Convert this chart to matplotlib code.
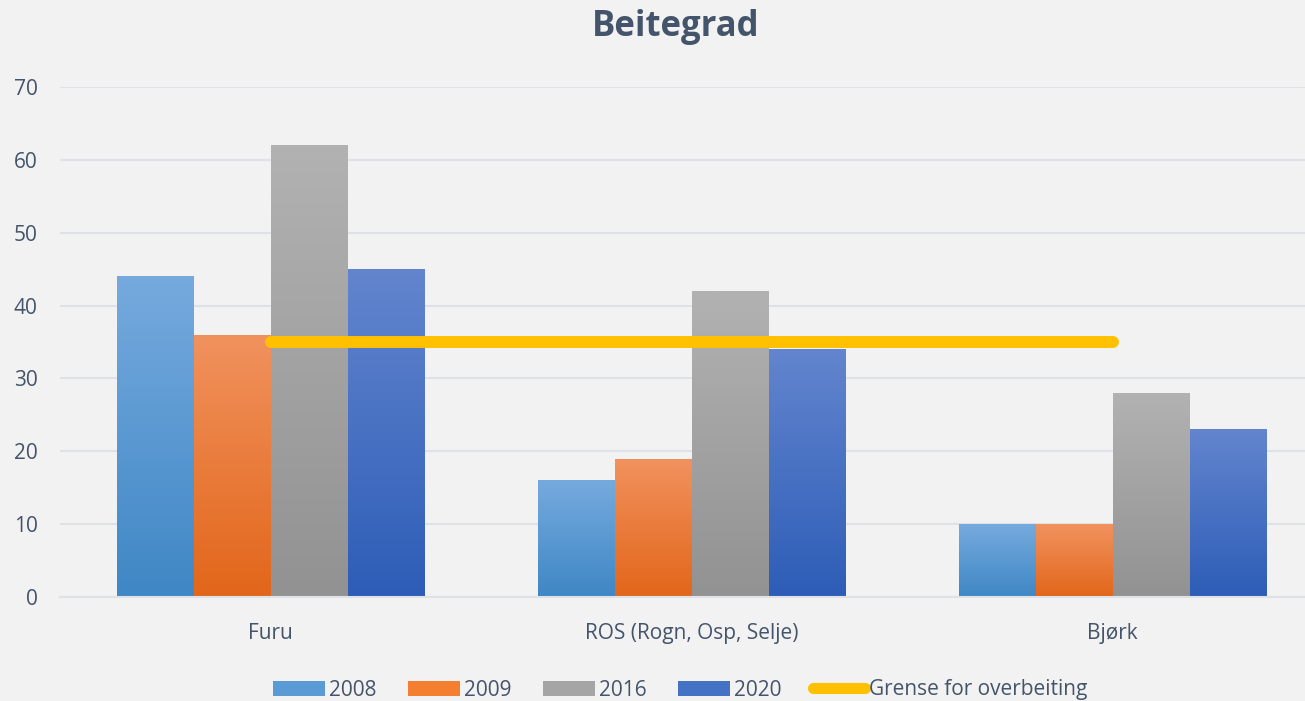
import matplotlib
matplotlib.use("Agg")
import matplotlib.pyplot as plt
import numpy as np
from matplotlib.colors import LinearSegmentedColormap
from matplotlib.patches import Patch
from matplotlib.lines import Line2D

categories = ["Furu", "ROS (Rogn, Osp, Selje)", "Bjørk"]
years = ["2008", "2009", "2016", "2020"]
v2008 = [44, 16, 10]
v2009 = [36, 19, 10]
v2016 = [62, 42, 28]
v2020 = [45, 34, 23]
threshold = [35, 35, 35]
threshold_label = "Grense for overbeiting"
title = "Beitegrad"
yticks = [0, 10, 20, 30, 40, 50, 60, 70]

series = [v2008, v2009, v2016, v2020]
grad_top = ["#76AADE", "#F1925E", "#B2B2B2", "#6385CE"]
grad_bot = ["#3F87C5", "#E2661A", "#929292", "#2D5DB7"]
mid = ["#5B9BD5", "#F47F30", "#A5A5A5", "#4472C4"]

bg = "#F2F2F2"
txt = "#44546A"
plt.rcParams['font.family'] = ['Open Sans', 'DejaVu Sans']

W, H = 1305, 701
fig = plt.figure(figsize=(W / 100, H / 100), dpi=100, facecolor=bg)
left_px, top_px, bot_px = 60, 87, 597
ax = fig.add_axes([left_px / W, (H - bot_px) / H, 1 - left_px / W, (bot_px - top_px) / H])
ax.set_facecolor(bg)

cat_px = 421.0
x = np.arange(len(categories))
bw = 77 / cat_px
n = len(series)

for i, vals in enumerate(series):
    offs = (i - (n - 1) / 2) * bw
    bars = ax.bar(x + offs, vals, width=bw, color='none', edgecolor='none', zorder=2)
    cmap = LinearSegmentedColormap.from_list(f"g{i}", [grad_bot[i], grad_top[i]])
    grad = np.linspace(0, 1, 256).reshape(-1, 1)
    for b in bars:
        x0, y0 = b.get_x(), b.get_y()
        w, h = b.get_width(), b.get_height()
        im = ax.imshow(grad, cmap=cmap, origin='lower', aspect='auto',
                       extent=(x0, x0 + w, y0, y0 + h), zorder=2)
        im.set_clip_path(b)

ax.plot(x, threshold, color="#FFC000", lw=8.6, solid_capstyle='round', zorder=3)
ax.set_xlim(-0.5, -0.5 + (W - left_px) / cat_px)
ax.set_ylim(0, 70)

ax.set_yticks(yticks)
ax.set_xticks(x)
ax.set_xticklabels(categories)
ax.tick_params(axis='both', length=0, colors=txt, labelsize=15)
ax.tick_params(axis='y', pad=16)
ax.tick_params(axis='x', pad=19)
ax.grid(axis='y', color="#DEE2E8", lw=1.5, zorder=0)
ax.set_axisbelow(True)
for s in ["top", "right", "left"]:
    ax.spines[s].set_visible(False)
ax.spines["bottom"].set_color("#DEE2E8")
ax.spines["bottom"].set_linewidth(1.5)

fig.text(676 / W, 1 - 27 / H, title, ha='center', va='center', fontsize=25,
         fontweight='bold', color=txt)

handles = [Patch(facecolor=mid[i], edgecolor='none') for i in range(n)]
handles.append(Line2D([0], [0], color="#FFC000", lw=8, solid_capstyle='round'))
labels = years + [threshold_label]
leg = fig.legend(handles, labels, loc='center', bbox_to_anchor=(680 / W, 1 - 690 / H),
                 ncol=5, frameon=False, fontsize=15, handlelength=2.5, handleheight=0.7,
                 handletextpad=0.2, columnspacing=1.5, borderpad=0)
for t in leg.get_texts():
    t.set_color(txt)

fig.savefig("out.png", dpi=100, facecolor=bg)
